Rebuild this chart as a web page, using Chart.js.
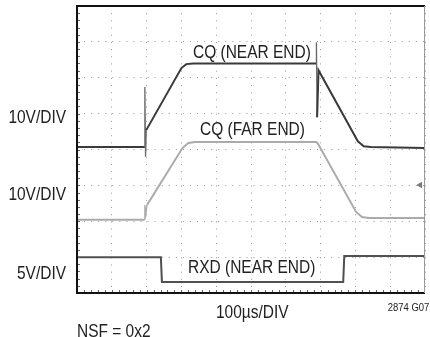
<!DOCTYPE html>
<html>
<head>
<meta charset="utf-8">
<script src="https://cdn.jsdelivr.net/npm/chart.js@4/dist/chart.umd.min.js"></script>
<style>
  body { margin: 0; background: #fff; }
  #wrap { position: relative; width: 430px; height: 337px; overflow: hidden; }
  canvas { position: absolute; left: 0; top: 0; }
  .lbl {
    position: absolute;
    font-family: "Liberation Sans", Arial, sans-serif;
    font-size: 18px;
    line-height: 18px;
    color: #222;
    white-space: nowrap;
    transform: scaleX(0.86);
    transform-origin: left top;
  }
  .r { transform-origin: right top; }
  .small { font-size: 11px; line-height: 11px; }
</style>
</head>
<body>
<div id="wrap">
  <canvas id="chart" width="430" height="337"></canvas>
  <div class="lbl" style="left:193px; top:43px;">CQ (NEAR END)</div>
  <div class="lbl" style="left:200px; top:120px;">CQ (FAR END)</div>
  <div class="lbl" style="left:188px; top:258px;">RXD (NEAR END)</div>
  <div class="lbl r" style="right:364px; top:108px;">10V/DIV</div>
  <div class="lbl r" style="right:364px; top:185px;">10V/DIV</div>
  <div class="lbl r" style="right:364px; top:264px;">5V/DIV</div>
  <div class="lbl" style="left:216px; top:303px;">100µs/DIV</div>
  <div class="lbl" style="left:77px; top:322px;">NSF = 0x2</div>
  <div class="lbl r small" style="right:1px; top:302px;">2874 G07</div>
</div>
<script>
// scope traces, x in divisions (100µs/div), y in divisions from the bottom
const nearX = [0, 1.95, 1.95, 1.97, 1.99, 3.0, 3.14, 3.34, 6.88, 6.88, 6.90, 6.94, 8.07, 8.24, 8.44, 10];
const nearY = [4.07, 4.07, 5.74, 3.8, 4.54, 6.27, 6.38, 6.40, 6.40, 6.99, 4.90, 6.21, 4.23, 4.09, 4.07, 4.04];

const farX = [0, 1.95, 1.95, 1.98, 2.01, 3.03, 3.2, 3.4, 6.88, 6.93, 8.02, 8.19, 8.39, 10];
const farY = [2.04, 2.04, 2.45, 2.2, 2.45, 4.04, 4.18, 4.21, 4.21, 4.15, 2.26, 2.12, 2.09, 2.09];

const rxdX = [0, 2.41, 2.44, 7.65, 7.68, 10];
const rxdY = [1.0, 1.0, 0.31, 0.31, 1.03, 1.03];

const trigX = [9.86];
const trigY = [3.01];

const xDivs = 10;
const yDivs = 8;

function pts(xs, ys) {
  return xs.map((x, i) => ({ x: x, y: ys[i] }));
}

// glitches are near-vertical segments: thinner and fainter
function isSpike(ctx) {
  return Math.abs(ctx.p1.parsed.x - ctx.p0.parsed.x) < 0.04;
}

const frame = {
  id: "frame",
  afterDraw(chart) {
    const c = chart.ctx;
    const a = chart.chartArea;
    const xs = chart.scales.x;
    const ys = chart.scales.y;
    c.save();
    // minor ticks on bottom and left edges
    c.strokeStyle = "#666";
    c.lineWidth = 1;
    c.beginPath();
    for (let i = 1; i < xDivs * 5; i++) {
      const px = Math.round(xs.getPixelForValue(i / 5)) + 0.5;
      c.moveTo(px, a.bottom);
      c.lineTo(px, a.bottom - 3);
    }
    for (let i = 1; i < yDivs * 5; i++) {
      const py = Math.round(ys.getPixelForValue(i / 5)) + 0.5;
      c.moveTo(a.left, py);
      c.lineTo(a.left + 3, py);
    }
    c.stroke();
    // outer frame
    c.strokeStyle = "#111";
    c.lineWidth = 2;
    c.beginPath();
    c.moveTo(a.right, a.top);
    c.lineTo(a.left, a.top);
    c.lineTo(a.left, a.bottom);
    c.lineTo(a.right, a.bottom);
    c.stroke();
    c.strokeStyle = "#999";
    c.lineWidth = 1;
    c.beginPath();
    c.moveTo(a.right - 0.5, a.top);
    c.lineTo(a.right - 0.5, a.bottom);
    c.stroke();
    c.restore();
  }
};

const ctx = document.getElementById("chart").getContext("2d");

new Chart(ctx, {
  type: "scatter",
  data: {
    datasets: [
      {
        label: "CQ (NEAR END)",
        data: pts(nearX, nearY),
        showLine: true,
        borderColor: "#3a3a3a",
        borderWidth: 2,
        pointRadius: 0,
        segment: {
          borderWidth: (c) => (isSpike(c) ? 1.3 : 2),
          borderColor: (c) => (isSpike(c) ? "#6a6a6a" : undefined)
        }
      },
      {
        label: "CQ (FAR END)",
        data: pts(farX, farY),
        showLine: true,
        borderColor: "#ababab",
        borderWidth: 2,
        pointRadius: 0,
        segment: { borderWidth: (c) => (isSpike(c) ? 1.3 : 2) }
      },
      {
        label: "RXD (NEAR END)",
        data: pts(rxdX, rxdY),
        showLine: true,
        borderColor: "#505050",
        borderWidth: 2,
        pointRadius: 0
      },
      {
        label: "trigger",
        data: pts(trigX, trigY),
        showLine: false,
        pointStyle: "triangle",
        rotation: 270,
        pointRadius: 3,
        backgroundColor: "#777",
        borderColor: "#777",
        borderWidth: 1
      }
    ]
  },
  options: {
    responsive: false,
    animation: false,
    layout: { padding: { left: 77, top: 6, right: 1, bottom: 44 } },
    plugins: {
      legend: { display: false },
      tooltip: { enabled: false }
    },
    scales: {
      x: {
        type: "linear",
        min: 0,
        max: xDivs,
        ticks: { display: false, stepSize: 1 },
        grid: { color: "#999", lineWidth: 1, drawTicks: false },
        border: { display: false, dash: [1, 6.18] }
      },
      y: {
        type: "linear",
        min: 0,
        max: yDivs,
        ticks: { display: false, stepSize: 1 },
        grid: { color: "#999", lineWidth: 1, drawTicks: false },
        border: { display: false, dash: [1, 6.06] }
      }
    }
  },
  plugins: [frame]
});
</script>
</body>
</html>
